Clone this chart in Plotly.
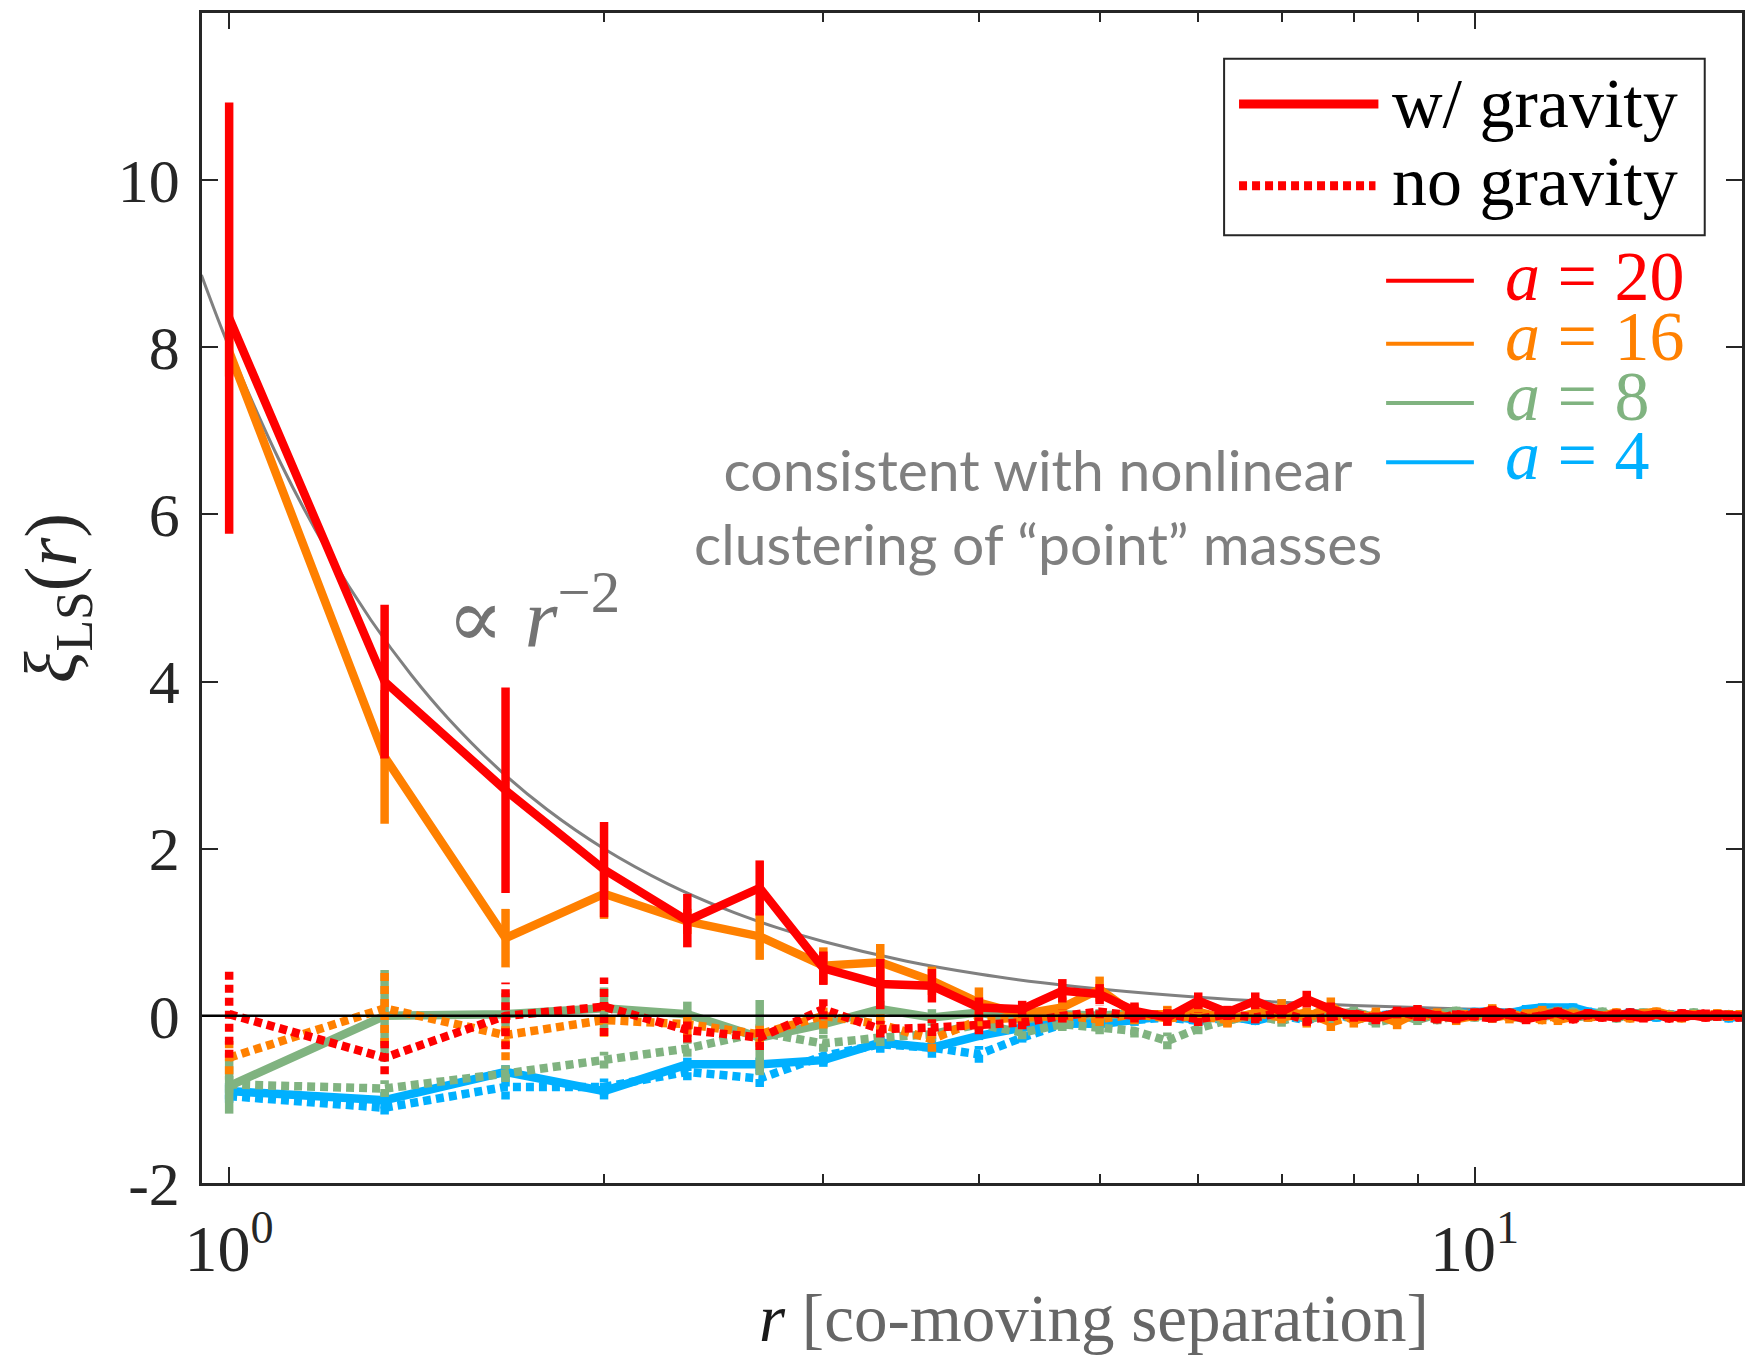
import plotly.graph_objects as go

# co-moving separation bins
r = [1.0, 1.333, 1.667, 2.0, 2.333, 2.667, 3.0, 3.333, 3.667, 4.0, 4.333, 4.667,
     5.0, 5.333, 5.667, 6.0, 6.333, 6.667, 7.0, 7.333, 7.667, 8.0, 8.333, 8.667,
     9.0, 9.333, 9.667, 10.0, 10.333, 10.667, 11.0, 11.333, 11.667, 12.0, 12.333,
     12.667, 13.0, 13.333, 13.667, 14.0, 14.333, 14.667, 15.0, 15.333, 15.667,
     16.0, 16.333]

# xi_LS(r) with gravity
grav_a20 = [8.35, 4.0, 2.7, 1.75, 1.14, 1.53, 0.57, 0.38, 0.36, 0.1, 0.08, 0.3,
            0.26, 0.06, -0.02, 0.18, 0.04, 0.18, 0.05, 0.2, 0.08, 0.0, -0.03, 0.04,
            0.06, 0.0, -0.03, 0.03, 0.06, 0.02, -0.04, 0.0, 0.05, -0.02, 0.03, 0.0,
            -0.02, 0.04, 0.0, 0.02, -0.03, 0.03, 0.0, -0.02, 0.02, 0.01, 0.0]
grav_a20_err = [2.58, 0.92, 1.23, 0.57, 0.32, 0.33, 0.2, 0.3, 0.2, 0.12, 0.1, 0.14,
                0.12, 0.1, 0.1, 0.1, 0.08, 0.1, 0.08, 0.1, 0.08, 0.07, 0.07, 0.07,
                0.07, 0.06, 0.06, 0.06, 0.06, 0.06, 0.06, 0.05, 0.05, 0.05, 0.05, 0.05,
                0.05, 0.05, 0.05, 0.05, 0.05, 0.05, 0.05, 0.05, 0.05, 0.05, 0.05]
grav_a16 = [7.95, 3.1, 0.93, 1.46, 1.13, 0.95, 0.6, 0.64, 0.42, 0.16, 0.02, 0.1,
            0.32, 0.02, 0.02, 0.05, -0.04, 0.02, 0.1, -0.02, 0.12, -0.06, 0.02, -0.08,
            0.04, 0.02, -0.04, 0.0, 0.08, -0.03, 0.02, 0.06, -0.05, -0.02, 0.03, 0.0,
            0.04, -0.02, 0.03, 0.05, 0.0, -0.03, 0.02, 0.0, 0.03, -0.01, 0.02]
grav_a16_err = [0.3, 0.8, 0.35, 0.3, 0.15, 0.28, 0.22, 0.22, 0.17, 0.18, 0.12, 0.12,
                0.15, 0.12, 0.1, 0.1, 0.1, 0.1, 0.1, 0.12, 0.1, 0.08, 0.08, 0.08,
                0.07, 0.07, 0.07, 0.06, 0.06, 0.06, 0.06, 0.06, 0.06, 0.05, 0.05, 0.05,
                0.05, 0.05, 0.05, 0.05, 0.05, 0.05, 0.05, 0.05, 0.05, 0.05, 0.05]
grav_a8 = [-0.84, 0.0, 0.02, 0.09, 0.02, -0.26, -0.1, 0.08, -0.02, 0.04, -0.05, 0.02,
           0.0, 0.03, -0.02, 0.04, -0.06, 0.02, 0.1, -0.04, 0.0, 0.05, -0.02, 0.03,
           -0.05, 0.02, 0.06, -0.02, 0.04, 0.0, -0.04, 0.03, 0.06, -0.02, 0.0, 0.05,
           -0.03, 0.02, 0.04, 0.0, 0.02, -0.02, 0.04, 0.0, -0.01, 0.02, 0.0]
grav_a8_err = [0.33, 0.55, 0.25, 0.25, 0.15, 0.45, 0.12, 0.1, 0.1, 0.1, 0.08, 0.08,
               0.08, 0.08, 0.08, 0.08, 0.07, 0.07, 0.1, 0.07, 0.06, 0.06, 0.06, 0.06,
               0.06, 0.05, 0.05, 0.05, 0.05, 0.05, 0.05, 0.05, 0.05, 0.05, 0.05, 0.05,
               0.05, 0.05, 0.05, 0.05, 0.05, 0.05, 0.05, 0.05, 0.05, 0.05, 0.05]
grav_a4 = [-0.9, -1.01, -0.67, -0.9, -0.58, -0.58, -0.53, -0.32, -0.38, -0.24, -0.14,
           -0.08, -0.1, -0.05, 0.0, -0.05, 0.0, -0.06, 0.02, -0.03, 0.04, 0.0, -0.02,
           0.03, 0.05, 0.02, 0.0, 0.04, 0.06, 0.02, 0.08, 0.1, 0.09, 0.1, 0.05, 0.03,
           0.0, 0.04, 0.02, -0.02, 0.02, 0.0, 0.03, -0.01, 0.02, -0.03, 0.0]
grav_a4_err = [0.1, 0.1, 0.08, 0.1, 0.08, 0.08, 0.08, 0.06, 0.06, 0.05, 0.05, 0.05,
               0.05, 0.05, 0.05, 0.05, 0.05, 0.05, 0.05, 0.05, 0.05, 0.05, 0.05, 0.05,
               0.05, 0.05, 0.05, 0.05, 0.05, 0.05, 0.05, 0.05, 0.05, 0.05, 0.05, 0.05,
               0.05, 0.05, 0.05, 0.05, 0.05, 0.05, 0.05, 0.05, 0.05, 0.05, 0.05]

# xi_LS(r) without gravity
nograv_a20 = [0.02, -0.5, 0.0, 0.11, -0.17, -0.26, 0.08, -0.16, -0.14, -0.12, -0.08,
              0.0, 0.05, 0.0, 0.02, -0.04, 0.02, -0.02, 0.04, -0.05, 0.0, 0.03, -0.03,
              0.05, 0.0, -0.04, 0.02, 0.0, -0.03, 0.04, -0.02, 0.0, 0.03, -0.04, 0.01,
              -0.02, 0.03, 0.0, -0.03, 0.02, 0.0, -0.02, 0.01, 0.03, -0.01, 0.0, -0.02]
nograv_a20_err = [0.52, 0.2, 0.4, 0.35, 0.15, 0.15, 0.12, 0.1, 0.1, 0.1, 0.08, 0.08,
                  0.08, 0.08, 0.08, 0.08, 0.07, 0.07, 0.07, 0.07, 0.06, 0.06, 0.06,
                  0.06, 0.06, 0.05, 0.05, 0.05, 0.05, 0.05, 0.05, 0.05, 0.05, 0.05,
                  0.05, 0.05, 0.05, 0.05, 0.05, 0.05, 0.05, 0.05, 0.05, 0.05, 0.05,
                  0.05, 0.05]
nograv_a16 = [-0.5, 0.09, -0.23, -0.05, -0.1, -0.22, 0.0, -0.1, -0.28, -0.05, -0.02,
              0.0, -0.04, 0.02, -0.03, 0.0, -0.05, 0.03, -0.02, 0.04, -0.08, 0.0, 0.02,
              -0.04, 0.03, -0.02, 0.0, 0.04, -0.03, 0.02, 0.0, -0.05, 0.02, 0.03, -0.02,
              0.0, 0.02, -0.03, 0.01, 0.03, -0.02, 0.0, 0.02, -0.01, 0.0, 0.02, -0.01]
nograv_a16_err = [0.2, 0.45, 0.3, 0.2, 0.15, 0.15, 0.15, 0.12, 0.15, 0.1, 0.08, 0.08,
                  0.08, 0.08, 0.08, 0.08, 0.07, 0.07, 0.07, 0.07, 0.1, 0.06, 0.06,
                  0.06, 0.06, 0.05, 0.05, 0.05, 0.05, 0.05, 0.05, 0.05, 0.05, 0.05,
                  0.05, 0.05, 0.05, 0.05, 0.05, 0.05, 0.05, 0.05, 0.05, 0.05, 0.05,
                  0.05, 0.05]
nograv_a8 = [-0.82, -0.87, -0.69, -0.53, -0.39, -0.2, -0.33, -0.26, -0.22, -0.1, -0.2,
             -0.1, -0.14, -0.18, -0.3, -0.15, -0.05, 0.0, -0.06, 0.02, -0.04, 0.0,
             -0.08, -0.02, 0.03, -0.05, 0.0, 0.02, -0.03, 0.04, 0.0, -0.02, 0.03, 0.05,
             -0.02, 0.0, 0.03, -0.01, 0.02, 0.04, 0.0, -0.02, 0.02, 0.0, 0.01, -0.01,
             0.0]
nograv_a8_err = [0.1, 0.1, 0.1, 0.1, 0.1, 0.1, 0.1, 0.1, 0.08, 0.08, 0.08, 0.08,
                 0.08, 0.08, 0.1, 0.07, 0.07, 0.07, 0.07, 0.07, 0.06, 0.06, 0.06, 0.06,
                 0.06, 0.05, 0.05, 0.05, 0.05, 0.05, 0.05, 0.05, 0.05, 0.05, 0.05, 0.05,
                 0.05, 0.05, 0.05, 0.05, 0.05, 0.05, 0.05, 0.05, 0.05, 0.05, 0.05]
nograv_a4 = [-0.96, -1.1, -0.85, -0.85, -0.67, -0.75, -0.48, -0.34, -0.38, -0.46,
             -0.26, -0.1, -0.08, -0.06, -0.02, -0.06, -0.02, -0.04, 0.0, -0.05, 0.02,
             -0.03, 0.0, 0.03, 0.02, -0.02, 0.03, 0.05, 0.02, 0.04, 0.06, 0.05, 0.03,
             0.06, 0.02, 0.0, 0.03, -0.01, 0.02, 0.0, -0.02, 0.01, 0.02, -0.01, 0.0,
             0.01, -0.02]
nograv_a4_err = [0.08, 0.08, 0.15, 0.1, 0.1, 0.1, 0.1, 0.1, 0.12, 0.1, 0.06, 0.06,
                 0.06, 0.06, 0.06, 0.06, 0.05, 0.05, 0.05, 0.05, 0.05, 0.05, 0.05,
                 0.05, 0.05, 0.05, 0.05, 0.05, 0.05, 0.05, 0.05, 0.05, 0.05, 0.05,
                 0.05, 0.05, 0.05, 0.05, 0.05, 0.05, 0.05, 0.05, 0.05, 0.05, 0.05,
                 0.05, 0.05]

# reference power law, xi = 8 r^-2
powerlaw_r = [0.95, 1.0, 1.1, 1.2, 1.3, 1.4, 1.5, 1.65, 1.8, 2.0, 2.25, 2.5, 2.75,
              3.0, 3.5, 4.0, 4.5, 5.0, 6.0, 7.0, 8.0, 9.0, 10.0, 12.0, 14.0, 16.5]
powerlaw_xi = [8.864, 8.0, 6.612, 5.556, 4.734, 4.082, 3.556, 2.938, 2.469, 2.0,
               1.580, 1.28, 1.058, 0.889, 0.653, 0.5, 0.395, 0.32, 0.222, 0.163,
               0.125, 0.099, 0.08, 0.056, 0.041, 0.029]

y_ticks = [-2, 0, 2, 4, 6, 8, 10]
y_ticktext = ["-2", "0", "2", "4", "6", "8", "10"]
x_ticks = [1, 10]
x_ticktext = ["10<sup>0</sup>", "10<sup>1</sup>"]
x_minor_ticks = [2, 3, 4, 5, 6, 7, 8, 9]

labels = ["<i>a</i> = 20", "<i>a</i> = 16", "<i>a</i> = 8", "<i>a</i> = 4"]
colors = ["#FF0000", "#FF8000", "#80B380", "#00B0FF"]

LW = 8.5
DOT = "8px,5px"
SERIF = "Liberation Serif, Times New Roman, DejaVu Serif, serif"
AXC = "#262626"

fig = go.Figure()

fig.add_trace(go.Scatter(x=powerlaw_r, y=powerlaw_xi, mode="lines",
                         line=dict(color="#808080", width=3, shape="spline"),
                         hoverinfo="skip"))


def errorbar_segments(xs, ys, es):
    sx, sy = [], []
    for xv, yv, ev in zip(xs, ys, es):
        sx += [xv, xv, None]
        sy += [yv - ev, yv + ev, None]
    return sx, sy


series = [
    (nograv_a4, nograv_a4_err, grav_a4, grav_a4_err, colors[3], labels[3]),
    (nograv_a8, nograv_a8_err, grav_a8, grav_a8_err, colors[2], labels[2]),
    (nograv_a16, nograv_a16_err, grav_a16, grav_a16_err, colors[1], labels[1]),
    (nograv_a20, nograv_a20_err, grav_a20, grav_a20_err, colors[0], labels[0]),
]

for ng, ng_err, g, g_err, col, lab in series:
    # no gravity: dotted line with dotted error bars
    ex, ey = errorbar_segments(r, ng, ng_err)
    fig.add_trace(go.Scatter(x=ex, y=ey, mode="lines",
                             line=dict(color=col, width=LW, dash=DOT),
                             hoverinfo="skip", connectgaps=False))
    fig.add_trace(go.Scatter(x=r, y=ng, mode="lines", name=lab + " no gravity",
                             line=dict(color=col, width=LW, dash=DOT)))
    # with gravity: solid line with solid error bars
    ex, ey = errorbar_segments(r, g, g_err)
    fig.add_trace(go.Scatter(x=ex, y=ey, mode="lines",
                             line=dict(color=col, width=LW),
                             hoverinfo="skip", connectgaps=False))
    fig.add_trace(go.Scatter(x=r, y=g, mode="lines", name=lab + " w/ gravity",
                             line=dict(color=col, width=LW)))

shapes = [
    # zero reference line
    dict(type="line", xref="paper", x0=0, x1=1, yref="y", y0=0, y1=0,
         line=dict(color="black", width=2.5), layer="above"),
    # line-style key box
    dict(type="rect", xref="paper", yref="paper", x0=0.6637, x1=0.9758,
         y0=0.8100, y1=0.9610, fillcolor="white",
         line=dict(color=AXC, width=2), layer="above"),
    dict(type="line", xref="paper", yref="paper", x0=0.6734, x1=0.7639,
         y0=0.9222, y1=0.9222, line=dict(color="#FF0000", width=9), layer="above"),
    dict(type="line", xref="paper", yref="paper", x0=0.6734, x1=0.7620,
         y0=0.8524, y1=0.8524, line=dict(color="#FF0000", width=9, dash="8px,5px"),
         layer="above"),
]
key_y = [0.7712, 0.7173, 0.6667, 0.6160]
for yy, col in zip(key_y, colors):
    shapes.append(dict(type="line", xref="paper", yref="paper", x0=0.7689,
                       x1=0.8259, y0=yy, y1=yy, line=dict(color=col, width=4),
                       layer="above"))

annotations = [
    dict(text="w/ gravity", xref="paper", yref="paper", x=0.7716, y=0.9228,
         xanchor="left", yanchor="middle", showarrow=False,
         font=dict(family=SERIF, size=70, color="black")),
    dict(text="no gravity", xref="paper", yref="paper", x=0.7716, y=0.8558,
         xanchor="left", yanchor="middle", showarrow=False,
         font=dict(family=SERIF, size=70, color="black")),
    dict(text="consistent with nonlinear<br>clustering of \u201cpoint\u201d masses",
         xref="paper", yref="paper", x=0.543, y=0.579, xanchor="center",
         yanchor="middle", showarrow=False, align="center",
         font=dict(family="Lato", size=57, color="#7F7F7F")),
    dict(text="\u221d <i>r</i><sup>\u22122</sup>", xref="paper", yref="paper",
         x=0.158, y=0.488, xanchor="left", yanchor="middle", showarrow=False,
         font=dict(family=SERIF, size=84, color="#737373")),
    dict(text="<i>r</i> <span style='color:#666666'>[co-moving separation]</span>",
         xref="paper", yref="paper", x=0.579, y=-0.1487, xanchor="center",
         yanchor="bottom", showarrow=False,
         font=dict(family=SERIF, size=67, color="#1a1a1a")),
    dict(text="<i>\u03be</i><sub>LS</sub>(<i>r</i>)", xref="paper", yref="paper",
         x=-0.0946, y=0.5, xanchor="center", yanchor="middle", textangle=-90,
         showarrow=False, font=dict(family=SERIF, size=74, color=AXC)),
]
key_text_y = [0.7746, 0.7239, 0.6726, 0.6222]
for yy, col, lab in zip(key_text_y, colors, labels):
    annotations.append(dict(text=lab, xref="paper", yref="paper", x=0.8447, y=yy,
                            xanchor="left", yanchor="middle", showarrow=False,
                            font=dict(family=SERIF, size=70, color=col)))

fig.update_layout(
    width=1747, height=1358,
    margin=dict(l=202, r=2, t=13, b=175),
    plot_bgcolor="white", paper_bgcolor="white",
    showlegend=False,
    shapes=shapes, annotations=annotations,
    xaxis=dict(type="log", range=[-0.0218, 1.2148], tickvals=x_ticks,
               ticktext=x_ticktext, ticks="inside", ticklen=16, tickwidth=2,
               tickcolor=AXC, showline=True, linecolor=AXC, linewidth=2.5,
               mirror="ticks", showgrid=False, zeroline=False,
               ticklabelstandoff=6,
               tickfont=dict(family=SERIF, size=66, color=AXC),
               minor=dict(tickvals=x_minor_ticks, ticks="inside", ticklen=9,
                          tickwidth=2, tickcolor=AXC, showgrid=False)),
    yaxis=dict(range=[-2, 12], tickvals=y_ticks, ticktext=y_ticktext,
               ticks="inside", ticklen=16, tickwidth=2, tickcolor=AXC,
               showline=True, linecolor=AXC, linewidth=2.5, mirror="ticks",
               showgrid=False, zeroline=False, ticklabelstandoff=7,
               tickfont=dict(family=SERIF, size=62, color=AXC)),
)

fig.write_html("out.html")
